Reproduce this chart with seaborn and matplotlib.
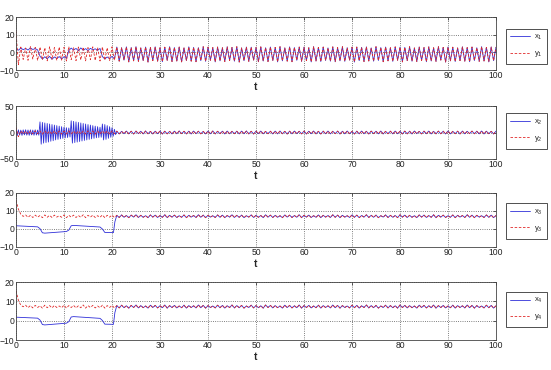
import numpy as np
import pandas as pd
import matplotlib
matplotlib.use("Agg")
import matplotlib.pyplot as plt
import seaborn as sns

# ---------------- data ----------------
STEP = 0.5          # sampling step of the coarse series
FINE_STEP = 0.25    # sampling step of the fast early x2 series
LATE_START = 21.0   # synchronisation time

# panel 1 : x1 / y1
y1_early = [12.0, -7.0, 3.0, -4.0, 2.5, -4.5, 3.2, -3.8, 2.8, -4.6,
            3.0, -4.2, 2.6, -4.8, 3.1, -4.0, 2.7, -4.6, 3.0, -4.4,
            2.8, -4.9, 3.2, -4.1, 2.6, -4.7, 3.0, -4.3, 2.9, -4.8,
            2.7, -4.2, 3.1, -4.6, 2.8, -4.9, 3.0, -4.4, 2.6, -4.7,
            3.1, -4.5]
x1_early = [2.0, 1.2, 2.4, 1.5, 2.2, 1.3, 2.5, 1.6, 2.1, 1.4,
            -2.2, -3.8, -2.5, -3.6, -2.3, -3.9, -2.6, -3.5, -2.4, -3.7, -2.5, -3.4,
            1.0, 2.4, 1.3, 2.2, 0.9, 2.5, 1.2, 2.1, 1.0, 2.3, 1.4, 2.0, 1.1, 2.2,
            -2.4, -3.8, -2.6, -3.6, -2.3, -3.7]
p1_late = [3.0, -5.0, 2.6, -4.4, 3.1, -5.4, 2.7, -4.8, 3.2, -5.1,
           2.5, -4.6, 3.0, -5.5, 2.8, -4.7, 3.1, -5.0, 2.6, -5.3,
           2.9, -4.5, 3.2, -5.2, 2.7, -4.9, 3.0, -5.4, 2.5, -4.6,
           3.1, -5.0, 2.8, -5.3, 2.6, -4.7, 3.2, -5.1, 2.9, -4.5,
           2.7, -5.4, 3.0, -4.8, 2.6, -5.2, 3.1, -4.6, 2.8, -5.0,
           3.2, -5.5, 2.5, -4.7, 3.0, -5.1, 2.9, -4.4, 2.7, -5.3,
           3.1, -4.9, 2.6, -5.2, 3.0, -4.6, 2.8, -5.4, 3.2, -4.8,
           2.5, -5.0, 3.1, -5.3, 2.7, -4.5, 3.0, -5.1, 2.9, -4.7,
           2.6, -5.4, 3.2, -4.9, 2.8, -5.2, 3.0, -4.6, 2.5, -5.0,
           3.1, -5.3, 2.7, -4.8, 3.2, -5.1, 2.6, -4.4, 2.9, -5.5,
           3.0, -4.7, 2.8, -5.2, 3.1, -4.9, 2.5, -5.0, 3.2, -4.6,
           2.7, -5.3, 3.0, -4.8, 2.6, -5.1, 3.1, -4.5, 2.9, -5.4,
           2.8, -4.7, 3.2, -5.0, 2.5, -5.2, 3.0, -4.6, 2.7, -5.3,
           3.1, -4.9, 2.6, -5.1, 3.2, -4.4, 2.8, -5.5, 3.0, -4.8,
           2.9, -5.2, 2.5, -4.7, 3.1, -5.0, 2.7, -5.3, 3.0, -4.6,
           2.6, -5.1, 3.2, -4.9, 2.8, -5.4, 3.0, -4.7, 2.9]

# panel 2 : x2 / y2
y2_early = [10.0, -8.0, 3.0, -2.6, 2.8, -3.0, 2.5, -2.7, 3.1, -2.4,
            2.7, -3.1, 2.9, -2.5, 2.6, -2.9, 3.0, -2.6, 2.8, -3.0,
            2.5, -2.8, 3.1, -2.5, 2.7, -3.0, 2.9, -2.6, 2.6, -2.9,
            3.0, -2.4, 2.8, -3.1, 2.5, -2.7, 3.0, -2.6, 2.7, -2.9,
            2.9, -2.5]
x2_early_fine = [8.0, -6.0, 5.0, -5.0, 4.5, -5.5, 5.0, -4.5, 5.2, -5.0,
                 4.8, -5.3, 5.0, -4.6, 4.7, -5.2, 5.1, -4.8, 4.6, -5.0,
                 20.0, -22.0, 19.0, -20.0, 18.0, -19.0, 17.0, -18.0, 16.0, -16.5,
                 15.0, -15.5, 14.0, -14.0, 13.0, -13.0, 12.0, -12.0, 11.0, -11.0,
                 10.0, -10.0, 9.0, -9.5, 8.5, -8.5,
                 22.0, -20.0, 21.0, -19.0, 20.0, -18.0, 19.0, -17.0, 18.0, -16.0,
                 17.0, -15.0, 16.0, -14.0, 15.0, -13.0, 14.0, -12.0, 13.0, -11.0,
                 12.0, -10.0, 11.0, -9.5, 10.0, -9.0,
                 16.0, -14.0, 15.0, -13.0, 13.0, -11.0, 11.0, -9.0, 9.0, -7.0,
                 6.0, -4.0]
p2_late = [2.5, -2.6, 2.2, -2.3, 2.7, -2.5, 2.4, -2.8, 2.6, -2.2,
           2.3, -2.7, 2.8, -2.4, 2.1, -2.6, 2.5, -2.3, 2.7, -2.8,
           2.4, -2.5, 2.2, -2.7, 2.6, -2.4, 2.8, -2.2, 2.3, -2.6,
           2.5, -2.8, 2.7, -2.3, 2.4, -2.5, 2.1, -2.7, 2.6, -2.4,
           2.8, -2.6, 2.3, -2.2, 2.5, -2.8, 2.7, -2.5, 2.2, -2.3,
           2.4, -2.7, 2.6, -2.4, 2.8, -2.6, 2.3, -2.8, 2.5, -2.2,
           2.7, -2.5, 2.1, -2.3, 2.4, -2.7, 2.6, -2.6, 2.8, -2.4,
           2.2, -2.8, 2.5, -2.5, 2.7, -2.2, 2.3, -2.6, 2.6, -2.7,
           2.4, -2.3, 2.8, -2.5, 2.2, -2.8, 2.5, -2.4, 2.7, -2.6,
           2.3, -2.2, 2.6, -2.7, 2.4, -2.5, 2.8, -2.3, 2.1, -2.8,
           2.5, -2.6, 2.7, -2.4, 2.3, -2.7, 2.6, -2.2, 2.4, -2.5,
           2.8, -2.8, 2.2, -2.3, 2.5, -2.6, 2.7, -2.4, 2.3, -2.7,
           2.6, -2.5, 2.4, -2.8, 2.8, -2.2, 2.1, -2.6, 2.5, -2.3,
           2.7, -2.7, 2.3, -2.5, 2.6, -2.4, 2.4, -2.8, 2.8, -2.6,
           2.2, -2.3, 2.5, -2.7, 2.7, -2.5, 2.3, -2.2, 2.6, -2.4,
           2.4, -2.6, 2.8, -2.8, 2.5, -2.3, 2.2, -2.7, 2.6]

# panel 3 : x3 / y3
y3_early = [16.0, 11.0, 8.2, 7.0, 7.8, 6.5, 7.6, 6.4, 7.7, 6.6,
            7.5, 6.3, 7.8, 6.5, 7.6, 6.4, 7.7, 6.6, 7.4, 6.5,
            7.8, 6.3, 7.6, 6.6, 7.7, 6.4, 7.5, 6.5, 7.9, 6.3,
            7.6, 6.6, 7.7, 6.4, 7.4, 6.5, 7.8, 6.3, 7.6, 6.6,
            7.7, 6.4]
x3_early_t = [0.0, 4.5, 5.0, 5.5, 6.0, 10.5, 11.0, 11.5, 12.0, 17.5, 18.0, 18.5, 20.3, 20.6]
x3_early_v = [1.8, 1.2, 0.2, -2.1, -2.3, -1.4, -0.6, 1.8, 2.0, 1.1, 0.0, -1.9, -2.0, 4.0]
p3_late = [7.6, 6.4, 7.8, 6.5, 7.5, 6.3, 7.7, 6.6, 7.9, 6.4,
           7.6, 6.5, 7.4, 6.3, 7.8, 6.6, 7.7, 6.4, 7.5, 6.5,
           7.9, 6.3, 7.6, 6.6, 7.7, 6.4, 7.4, 6.5, 7.8, 6.3,
           7.6, 6.6, 7.5, 6.4, 7.9, 6.5, 7.7, 6.3, 7.6, 6.6,
           7.4, 6.4, 7.8, 6.5, 7.7, 6.3, 7.5, 6.6, 7.9, 6.4,
           7.6, 6.5, 7.7, 6.3, 7.4, 6.6, 7.8, 6.4, 7.6, 6.5,
           7.5, 6.3, 7.9, 6.6, 7.7, 6.4, 7.6, 6.5, 7.4, 6.3,
           7.8, 6.6, 7.7, 6.4, 7.5, 6.5, 7.9, 6.3, 7.6, 6.6,
           7.7, 6.4, 7.4, 6.5, 7.8, 6.3, 7.6, 6.6, 7.5, 6.4,
           7.9, 6.5, 7.7, 6.3, 7.6, 6.6, 7.4, 6.4, 7.8, 6.5,
           7.7, 6.3, 7.5, 6.6, 7.9, 6.4, 7.6, 6.5, 7.7, 6.3,
           7.4, 6.6, 7.8, 6.4, 7.6, 6.5, 7.5, 6.3, 7.9, 6.6,
           7.7, 6.4, 7.6, 6.5, 7.4, 6.3, 7.8, 6.6, 7.7, 6.4,
           7.5, 6.5, 7.9, 6.3, 7.6, 6.6, 7.7, 6.4, 7.4, 6.5,
           7.8, 6.3, 7.6, 6.6, 7.5, 6.4, 7.9, 6.5, 7.7, 6.3,
           7.6, 6.6, 7.4, 6.4, 7.8, 6.5, 7.7, 6.3, 7.5]

# panel 4 : x4 / y4
y4_early = [15.5, 10.5, 8.0, 7.2, 8.0, 6.7, 7.8, 6.6, 7.9, 6.8,
            7.7, 6.5, 8.0, 6.7, 7.8, 6.6, 7.9, 6.8, 7.6, 6.7,
            8.0, 6.5, 7.8, 6.8, 7.9, 6.6, 7.7, 6.7, 8.1, 6.5,
            7.8, 6.8, 7.9, 6.6, 7.6, 6.7, 8.0, 6.5, 7.8, 6.8,
            7.9, 6.6]
x4_early_t = [0.0, 4.5, 5.0, 5.5, 6.0, 10.5, 11.0, 11.5, 12.0, 17.5, 18.0, 18.5, 20.3, 20.6]
x4_early_v = [1.8, 1.3, 0.3, -2.0, -2.2, -1.3, -0.5, 1.9, 2.1, 1.2, 0.1, -1.8, -1.9, 4.2]
p4_late = [7.8, 6.6, 8.0, 6.7, 7.7, 6.5, 7.9, 6.8, 8.1, 6.6,
           7.8, 6.7, 7.6, 6.5, 8.0, 6.8, 7.9, 6.6, 7.7, 6.7,
           8.1, 6.5, 7.8, 6.8, 7.9, 6.6, 7.6, 6.7, 8.0, 6.5,
           7.8, 6.8, 7.7, 6.6, 8.1, 6.7, 7.9, 6.5, 7.8, 6.8,
           7.6, 6.6, 8.0, 6.7, 7.9, 6.5, 7.7, 6.8, 8.1, 6.6,
           7.8, 6.7, 7.9, 6.5, 7.6, 6.8, 8.0, 6.6, 7.8, 6.7,
           7.7, 6.5, 8.1, 6.8, 7.9, 6.6, 7.8, 6.7, 7.6, 6.5,
           8.0, 6.8, 7.9, 6.6, 7.7, 6.7, 8.1, 6.5, 7.8, 6.8,
           7.9, 6.6, 7.6, 6.7, 8.0, 6.5, 7.8, 6.8, 7.7, 6.6,
           8.1, 6.7, 7.9, 6.5, 7.8, 6.8, 7.6, 6.6, 8.0, 6.7,
           7.9, 6.5, 7.7, 6.8, 8.1, 6.6, 7.8, 6.7, 7.9, 6.5,
           7.6, 6.8, 8.0, 6.6, 7.8, 6.7, 7.7, 6.5, 8.1, 6.8,
           7.9, 6.6, 7.8, 6.7, 7.6, 6.5, 8.0, 6.8, 7.9, 6.6,
           7.7, 6.7, 8.1, 6.5, 7.8, 6.8, 7.9, 6.6, 7.6, 6.7,
           8.0, 6.5, 7.8, 6.8, 7.7, 6.6, 8.1, 6.7, 7.9, 6.5,
           7.8, 6.8, 7.6, 6.6, 8.0, 6.7, 7.9, 6.5, 7.7]

x_ticks = [0, 10, 20, 30, 40, 50, 60, 70, 80, 90, 100]
y_ticks = [[-10, 0, 10, 20], [-50, 0, 50], [-10, 0, 10, 20], [-10, 0, 10, 20]]
y_limits = [(-10, 20), (-50, 50), (-10, 20), (-10, 20)]
x_labels = [r"x$_1$", r"x$_2$", r"x$_3$", r"x$_4$"]
y_labels = [r"y$_1$", r"y$_2$", r"y$_3$", r"y$_4$"]
x_axis_label = "t"


# ---------------- helpers ----------------
def grid_of(values, start, step):
    return start + step * np.arange(len(values))


def series(t_parts, v_parts):
    return np.concatenate(t_parts), np.concatenate(v_parts)


late_t1 = grid_of(p1_late, LATE_START, STEP)
late_t2 = grid_of(p2_late, LATE_START, STEP)
late_t3 = grid_of(p3_late, LATE_START, STEP)
late_t4 = grid_of(p4_late, LATE_START, STEP)

panels = [
    (series([grid_of(x1_early, 0, STEP), late_t1], [x1_early, p1_late]),
     series([grid_of(y1_early, 0, STEP), late_t1], [y1_early, p1_late])),
    (series([grid_of(x2_early_fine, 0, FINE_STEP), late_t2], [x2_early_fine, p2_late]),
     series([grid_of(y2_early, 0, STEP), late_t2], [y2_early, p2_late])),
    (series([np.array(x3_early_t), late_t3], [x3_early_v, p3_late]),
     series([grid_of(y3_early, 0, STEP), late_t3], [y3_early, p3_late])),
    (series([np.array(x4_early_t), late_t4], [x4_early_v, p4_late]),
     series([grid_of(y4_early, 0, STEP), late_t4], [y4_early, p4_late])),
]

# ---------------- style ----------------
sns.set_style("white")
plt.rcParams["font.family"] = ["Liberation Sans", "DejaVu Sans"]
plt.rcParams["mathtext.fontset"] = "custom"
plt.rcParams["mathtext.rm"] = "Liberation Sans"
plt.rcParams["mathtext.default"] = "regular"

BLUE = "#2f2fd8"
RED = "#e02828"

W, H = 551, 370
fig = plt.figure(figsize=(W / 100, H / 100), dpi=100)

left_px, right_px = 16, 496
boxes_px = [(17, 70), (106, 159), (193, 247), (282, 340)]
legend_y = [0.45, 0.53, 0.48, 0.53]

for i, ((xt, xv), (yt, yv)) in enumerate(panels):
    top, bot = boxes_px[i]
    ax = fig.add_axes([left_px / W, 1 - bot / H, (right_px - left_px) / W, (bot - top) / H])
    dfx = pd.DataFrame({"t": xt, "v": xv})
    dfy = pd.DataFrame({"t": yt, "v": yv})
    sns.lineplot(data=dfx, x="t", y="v", ax=ax, color=BLUE, linewidth=0.6,
                 estimator=None, sort=False, label=x_labels[i])
    sns.lineplot(data=dfy, x="t", y="v", ax=ax, color=RED, linewidth=0.6,
                 estimator=None, sort=False, linestyle=(0, (3, 2)), label=y_labels[i])
    ax.set_xlim(0, 100)
    ax.set_ylim(*y_limits[i])
    ax.set_xticks(x_ticks)
    ax.set_yticks(y_ticks[i])
    ax.set_ylabel("")
    ax.set_xlabel(x_axis_label, fontsize=7.5, fontweight="bold", labelpad=1)
    ax.grid(True, linestyle=":", color="#555555", linewidth=0.6)
    ax.tick_params(direction="in", length=2.5, width=0.5, labelsize=6.2,
                   top=True, right=True, pad=1.0, colors="#222222")
    for s in ax.spines.values():
        s.set_linewidth(0.6)
        s.set_color("#444444")
    leg = ax.legend(loc="center left", bbox_to_anchor=(1.02, legend_y[i]),
                    fontsize=5.5, frameon=True, fancybox=False, framealpha=1,
                    edgecolor="#333333", handlelength=2.6, borderpad=0.6,
                    labelspacing=0.9, handletextpad=0.5, borderaxespad=0)
    leg.get_frame().set_linewidth(0.6)

fig.savefig("out.png", dpi=100)
